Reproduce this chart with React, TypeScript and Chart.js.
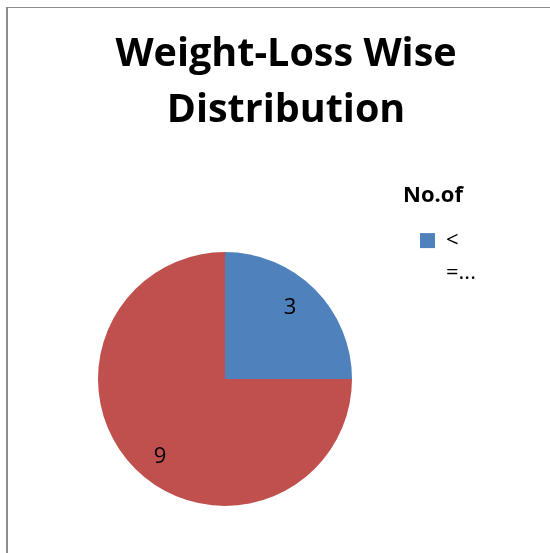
import React, { useEffect, useRef } from "react";
import { Chart, registerables } from "chart.js";

Chart.register(...registerables);

// ---- data ----
const categories = ["< =...", "> ..."];
const seriesName = "No.of";
const values = [3, 9];
const sliceColors = ["#4F81BD", "#C0504D"];
const titleLines = ["Weight-Loss Wise", "Distribution"];

const FONT = "'Open Sans'";

// value labels drawn inside each slice
const sliceValueLabels = {
  id: "sliceValueLabels",
  afterDatasetsDraw(chart: any, _args: any, opts: any) {
    const ctx = chart.ctx;
    const meta = chart.getDatasetMeta(0);
    const data = chart.data.datasets[0].data;
    ctx.save();
    ctx.font = `${opts.size}px ${opts.family}`;
    ctx.fillStyle = opts.color;
    ctx.textAlign = "center";
    ctx.textBaseline = "middle";
    meta.data.forEach((arc: any, i: number) => {
      const { x, y, startAngle, endAngle, outerRadius } = arc.getProps(
        ["x", "y", "startAngle", "endAngle", "outerRadius"],
        true
      );
      const mid = (startAngle + endAngle) / 2 + (opts.angleShift * Math.PI) / 180;
      const r = outerRadius * opts.ratio;
      ctx.fillText(String(data[i]), x + Math.cos(mid) * r, y + Math.sin(mid) * r + opts.dy);
    });
    ctx.restore();
  },
};

// give the legend box a fixed width (like the spreadsheet's legend area)
const fixedLegendWidth = {
  id: "fixedLegendWidth",
  afterInit(chart: any, _args: any, opts: any) {
    const legend = chart.legend;
    if (!legend) return;
    const fit = legend.fit.bind(legend);
    legend.fit = () => {
      fit();
      legend.width = opts.width;
    };
  },
};

export default function App() {
  const ref = useRef<HTMLCanvasElement | null>(null);

  useEffect(() => {
    if (!ref.current) return;
    const baseGen = (Chart as any).overrides.pie.plugins.legend.labels.generateLabels;
    const chart = new Chart(ref.current, {
      type: "pie",
      data: {
        labels: categories,
        datasets: [
          {
            label: seriesName,
            data: values,
            backgroundColor: sliceColors,
            borderWidth: 0,
          },
        ],
      },
      plugins: [sliceValueLabels, fixedLegendWidth],
      options: {
        responsive: false,
        animation: false,
        events: [],
        layout: { padding: { left: 47, right: 25, top: 10, bottom: 47 } },
        plugins: {
          tooltip: { enabled: false },
          title: {
            display: true,
            text: titleLines,
            color: "#000",
            font: { family: FONT, size: 39.5, weight: "bold", lineHeight: "56px" },
            padding: { top: 17, bottom: 113 },
          },
          legend: {
            display: true,
            position: "right",
            align: "start",
            title: {
              display: true,
              text: seriesName,
              position: "start",
              color: "#000",
              font: { family: FONT, size: 22, weight: "bold", lineHeight: 1.2 },
              padding: { top: 174.5, bottom: 1.7 },
            },
            labels: {
              boxWidth: 15,
              boxHeight: 15,
              padding: 17,
              color: "#000",
              font: { family: FONT, size: 22, lineHeight: "32px" },
              generateLabels: (c: any) =>
                baseGen(c).map((it: any) => ({ ...it, text: String(it.text).split(" ") })),
              filter: (item: any) => item.index === 0,
            },
          },
          fixedLegendWidth: { width: 122 },
          sliceValueLabels: {
            family: FONT,
            size: 22,
            color: "#000",
            ratio: 0.78,
            angleShift: -4,
            dy: 3,
          },
        } as any,
      },
    });
    return () => chart.destroy();
  }, []);

  return (
    <div
      style={{
        position: "absolute",
        left: 0,
        top: 0,
        width: 550,
        height: 553,
        overflow: "hidden",
        background: "#fff",
      }}
    >
      <div
        style={{
          position: "absolute",
          left: 6,
          top: 7,
          width: 700,
          height: 700,
          borderLeft: "2px solid #8c8c8c",
          borderTop: "1px solid #8c8c8c",
        }}
      />
      <canvas
        ref={ref}
        width={550}
        height={553}
        style={{ position: "absolute", left: 0, top: 0, width: 550, height: 553 }}
      />
    </div>
  );
}
